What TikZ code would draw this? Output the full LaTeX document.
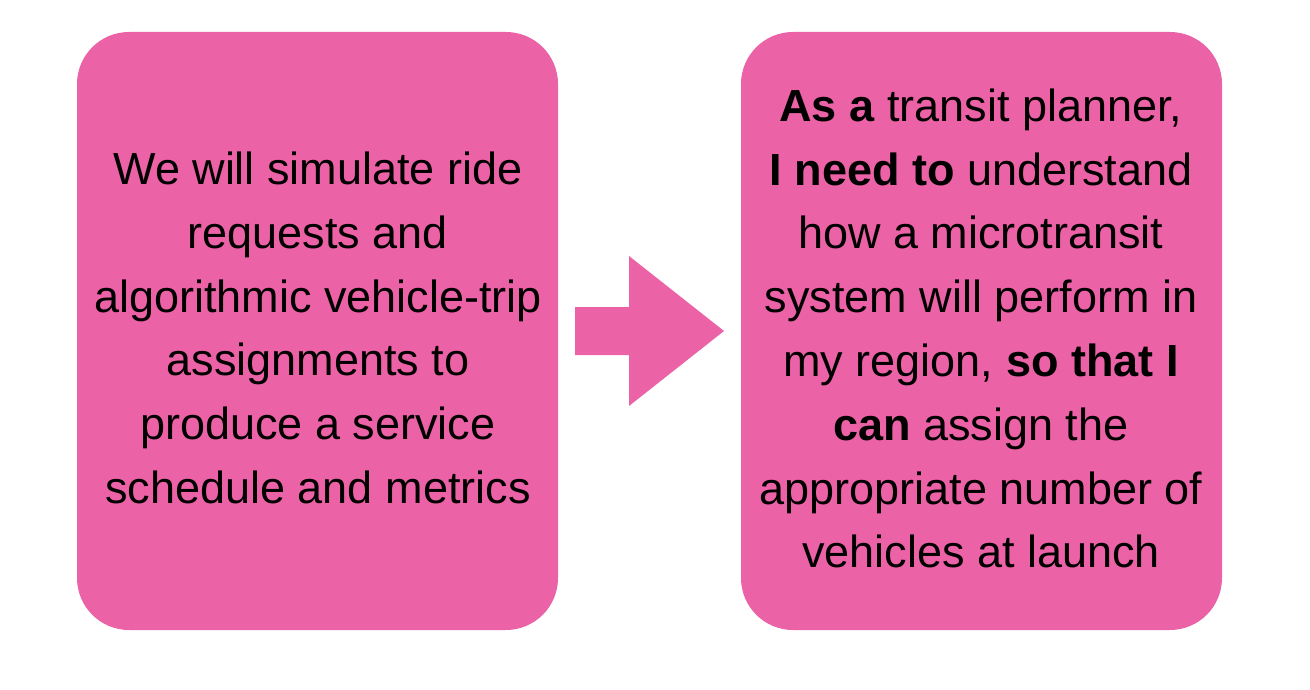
\documentclass[tikz,border=0pt]{standalone}
\usepackage{fontspec}
\setmainfont{Liberation Sans}
\definecolor{boxpink}{RGB}{236,98,166}
\begin{document}
\begin{tikzpicture}[x=1pt,y=-1pt,
  card/.style={fill=boxpink, draw=none, rounded corners=52pt},
  cardtext/.style={align=center, font=\fontsize{45}{63.8}\selectfont, text=black, inner sep=0pt}]
\useasboundingbox (0,0) rectangle (1310,690);
\fill[white] (0,0) rectangle (1310,690);
\path[card] (77,32) rectangle (558,630);
\path[card] (741,32) rectangle (1222,630);
\coordinate (lc) at (318,328);
\coordinate (rc) at (981,328.5);
\node[cardtext] (lefttext) at (lc) {We will simulate ride\\requests and\\algorithmic vehicle-trip\\assignments to\\produce a service\\schedule and metrics};
\node[cardtext] (righttext) at (rc) {\textbf{As a} transit planner,\\\textbf{I need to} understand\\how a microtransit\\system will perform in\\my region, \textbf{so that I}\\\textbf{can} assign the\\appropriate number of\\vehicles at launch};
\fill[boxpink] (575,307) -- (629,307) -- (629,256) -- (724,331) -- (629,406) -- (629,355) -- (575,355) -- cycle;
\end{tikzpicture}
\end{document}
